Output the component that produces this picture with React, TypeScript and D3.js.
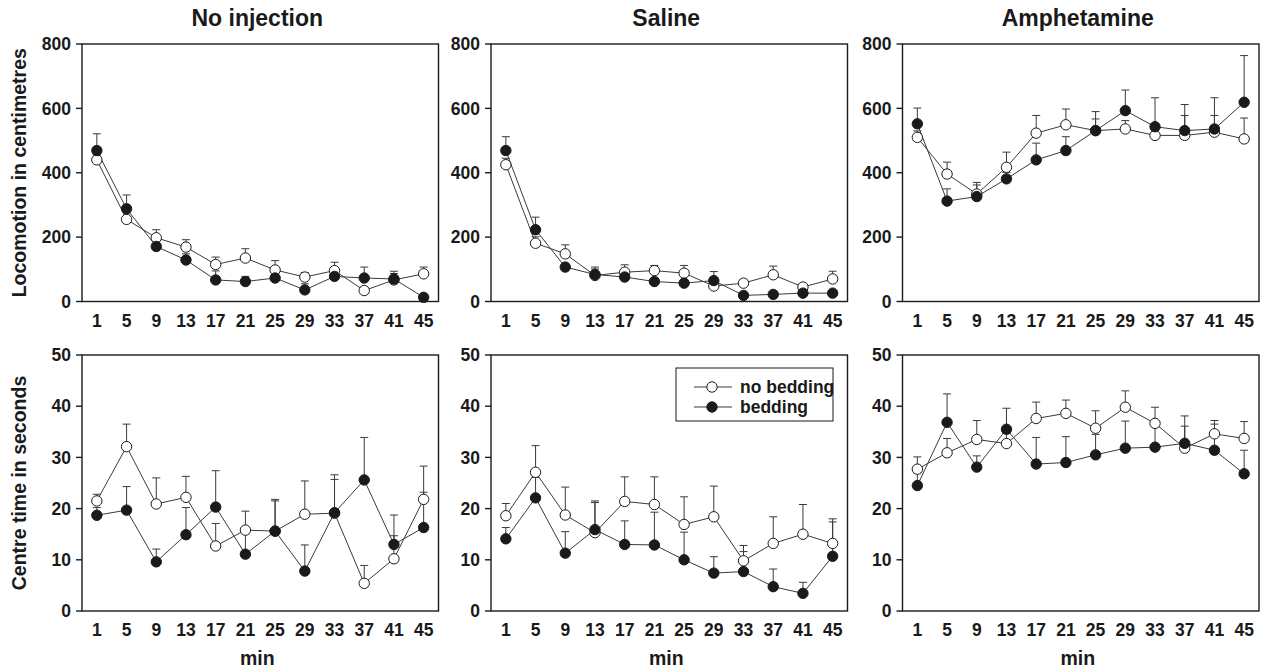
import * as d3 from 'd3';

const minutes = [1, 5, 9, 13, 17, 21, 25, 29, 33, 37, 41, 45];
const panelTitles = ['No injection', 'Saline', 'Amphetamine'];
const locoTicks = [0, 200, 400, 600, 800];
const centreTicks = [0, 10, 20, 30, 40, 50];

// locomotion (cm), open = no bedding, filled = bedding; *Err = SEM (upper bar)
const locoNoInjOpen = [440, 255, 198, 169, 115, 135, 98, 76, 96, 34, 67, 86];
const locoNoInjOpenErr = [15, 25, 25, 23, 23, 29, 29, 14, 26, 10, 20, 21];
const locoNoInjFilled = [469, 288, 171, 129, 67, 62, 73, 36, 78, 73, 70, 13];
const locoNoInjFilledErr = [52, 43, 15, 19, 28, 16, 10, 19, 10, 34, 24, 5];

const locoSalineOpen = [425, 181, 148, 81, 91, 96, 88, 48, 57, 83, 45, 70];
const locoSalineOpenErr = [20, 20, 28, 20, 23, 16, 24, 10, 10, 27, 10, 24];
const locoSalineFilled = [469, 223, 107, 84, 76, 62, 57, 65, 19, 22, 26, 26];
const locoSalineFilledErr = [43, 39, 10, 23, 10, 10, 10, 28, 5, 5, 5, 5];

const locoAmphOpen = [510, 396, 334, 417, 523, 549, 531, 536, 516, 516, 526, 505];
const locoAmphOpenErr = [20, 37, 36, 47, 55, 49, 36, 26, 15, 62, 52, 65];
const locoAmphFilled = [552, 312, 326, 381, 440, 469, 531, 593, 543, 531, 536, 619];
const locoAmphFilledErr = [49, 38, 36, 20, 52, 43, 59, 64, 90, 81, 97, 145];

// centre time (s)
const centreNoInjOpen = [21.5, 32.1, 20.9, 22.2, 12.7, 15.8, 15.6, 18.9, 19.1, 5.4, 10.2, 21.8];
const centreNoInjOpenErr = [1.3, 4.4, 5.1, 4.1, 4.4, 3.7, 6.2, 6.5, 7.5, 3.5, 4.5, 6.5];
const centreNoInjFilled = [18.7, 19.7, 9.6, 14.9, 20.3, 11.1, 15.6, 7.8, 19.2, 25.6, 13.0, 16.3];
const centreNoInjFilledErr = [1.5, 4.6, 2.5, 5.3, 7.1, 4.5, 5.9, 5.1, 6.5, 8.3, 5.75, 6.9];

const centreSalineOpen = [18.6, 27.1, 18.75, 15.3, 21.4, 20.8, 16.9, 18.4, 9.8, 13.2, 15.0, 13.2];
const centreSalineOpenErr = [2.4, 5.2, 5.45, 6.2, 4.8, 5.4, 5.4, 6.0, 3.0, 5.2, 5.8, 4.8];
const centreSalineFilled = [14.1, 22.1, 11.3, 15.9, 13.0, 12.9, 10.0, 7.4, 7.7, 4.75, 3.45, 10.7];
const centreSalineFilledErr = [2.2, 4, 4.2, 5.3, 4.6, 6.4, 5.4, 3.2, 3.9, 3.45, 2.15, 6.7];

const centreAmphOpen = [27.7, 30.9, 33.5, 32.7, 37.6, 38.6, 35.7, 39.8, 36.65, 31.8, 34.6, 33.7];
const centreAmphOpenErr = [2.4, 2.8, 3.7, 2, 3.2, 2.6, 3.4, 3.2, 3.15, 4.3, 1.9, 3.3];
const centreAmphFilled = [24.5, 36.85, 28.1, 35.5, 28.7, 29.0, 30.5, 31.8, 32.0, 32.75, 31.4, 26.8];
const centreAmphFilledErr = [2.5, 5.55, 2.2, 4.1, 5.2, 5.05, 4, 5.3, 4, 5.35, 5.8, 4.6];

const FONT = '"Liberation Sans", Arial, Helvetica, sans-serif';
const INK = '#1a1a1a';
const LINE = '#3a3a3a';

interface PanelProps {
  left: number;
  top: number;
  height: number;
  ticks: number[];
  open: number[];
  openErr: number[];
  filled: number[];
  filledErr: number[];
  title?: string;
  yLabel?: string;
  xLabel?: boolean;
  legend?: boolean;
}

const PANEL_W = 356.5;

function Panel({ left, top, height, ticks, open, openErr, filled, filledErr, title, yLabel, xLabel, legend }: PanelProps) {
  const x = d3.scaleLinear().domain([-1, 47]).range([0, PANEL_W]);
  const y = d3.scaleLinear().domain([0, ticks[ticks.length - 1]]).range([height, 0]);
  const line = d3.line<number>()
    .x((_, i) => x(minutes[i]))
    .y((d) => y(d));

  const errBars = (vals: number[], errs: number[], key: string) =>
    vals.map((v, i) => {
      const cx = x(minutes[i]);
      const y0 = y(v);
      const y1 = y(v + errs[i]);
      return (
        <g key={key + i} stroke={LINE} strokeWidth={1}>
          <line x1={cx} x2={cx} y1={y0} y2={y1} />
          <line x1={cx - 4} x2={cx + 4} y1={y1} y2={y1} />
        </g>
      );
    });

  return (
    <g transform={`translate(${left},${top})`} fontFamily={FONT} fontWeight="bold" fill={INK}>
      {title && (
        <text x={PANEL_W / 2 - 3} y={-18} textAnchor="middle" fontSize={23}>{title}</text>
      )}
      {yLabel && (
        <text transform={`translate(-56,${height / 2}) rotate(-90)`} textAnchor="middle" fontSize={19.5}>{yLabel}</text>
      )}
      {xLabel && (
        <text x={PANEL_W / 2 - 3} y={height + 54} textAnchor="middle" fontSize={19.5}>min</text>
      )}
      <rect x={0} y={0} width={PANEL_W} height={height} fill="none" stroke={INK} strokeWidth={1.4} />
      {ticks.map((t) => (
        <g key={'yt' + t}>
          <line x1={-6} x2={0} y1={y(t)} y2={y(t)} stroke={INK} strokeWidth={1.4} />
          <text x={-11} y={y(t)} dy="0.35em" textAnchor="end" fontSize={17.5}>{t}</text>
        </g>
      ))}
      {minutes.map((m) => (
        <text key={'xt' + m} x={x(m)} y={height + 25} textAnchor="middle" fontSize={17.5}>{m}</text>
      ))}
      <path d={line(open)!} fill="none" stroke={LINE} strokeWidth={1} />
      <path d={line(filled)!} fill="none" stroke={LINE} strokeWidth={1} />
      {errBars(open, openErr, 'eo')}
      {errBars(filled, filledErr, 'ef')}
      {open.map((v, i) => (
        <circle key={'o' + i} cx={x(minutes[i])} cy={y(v)} r={5.2} fill="#fff" stroke={INK} strokeWidth={1} />
      ))}
      {filled.map((v, i) => (
        <circle key={'f' + i} cx={x(minutes[i])} cy={y(v)} r={5.2} fill={INK} stroke={INK} strokeWidth={1} />
      ))}
      {legend && (
        <g transform="translate(185,13)">
          <rect x={0} y={0} width={157} height={53} fill="#fff" stroke={INK} strokeWidth={1} />
          <line x1={18} x2={56} y1={19} y2={19} stroke={LINE} strokeWidth={1} />
          <circle cx={36} cy={19} r={5.2} fill="#fff" stroke={INK} strokeWidth={1} />
          <text x={64} y={19} dy="0.35em" fontSize={17.5}>no bedding</text>
          <line x1={18} x2={56} y1={39} y2={39} stroke={LINE} strokeWidth={1} />
          <circle cx={36} cy={39} r={5.2} fill={INK} stroke={INK} strokeWidth={1} />
          <text x={64} y={39} dy="0.35em" fontSize={17.5}>bedding</text>
        </g>
      )}
    </g>
  );
}

export default function App() {
  const lefts = [82, 491, 902.5];
  const topRow = [
    { open: locoNoInjOpen, openErr: locoNoInjOpenErr, filled: locoNoInjFilled, filledErr: locoNoInjFilledErr },
    { open: locoSalineOpen, openErr: locoSalineOpenErr, filled: locoSalineFilled, filledErr: locoSalineFilledErr },
    { open: locoAmphOpen, openErr: locoAmphOpenErr, filled: locoAmphFilled, filledErr: locoAmphFilledErr },
  ];
  const bottomRow = [
    { open: centreNoInjOpen, openErr: centreNoInjOpenErr, filled: centreNoInjFilled, filledErr: centreNoInjFilledErr },
    { open: centreSalineOpen, openErr: centreSalineOpenErr, filled: centreSalineFilled, filledErr: centreSalineFilledErr },
    { open: centreAmphOpen, openErr: centreAmphOpenErr, filled: centreAmphFilled, filledErr: centreAmphFilledErr },
  ];

  return (
    <svg width={1263} height={671} style={{ position: 'absolute', left: 0, top: 0, background: '#fff' }}>
      {topRow.map((s, i) => (
        <Panel
          key={'t' + i}
          left={lefts[i]}
          top={44}
          height={257.5}
          ticks={locoTicks}
          {...s}
          title={panelTitles[i]}
          yLabel={i === 0 ? 'Locomotion in centimetres' : undefined}
        />
      ))}
      {bottomRow.map((s, i) => (
        <Panel
          key={'b' + i}
          left={lefts[i]}
          top={355}
          height={256}
          ticks={centreTicks}
          {...s}
          yLabel={i === 0 ? 'Centre time in seconds' : undefined}
          xLabel
          legend={i === 1}
        />
      ))}
    </svg>
  );
}
